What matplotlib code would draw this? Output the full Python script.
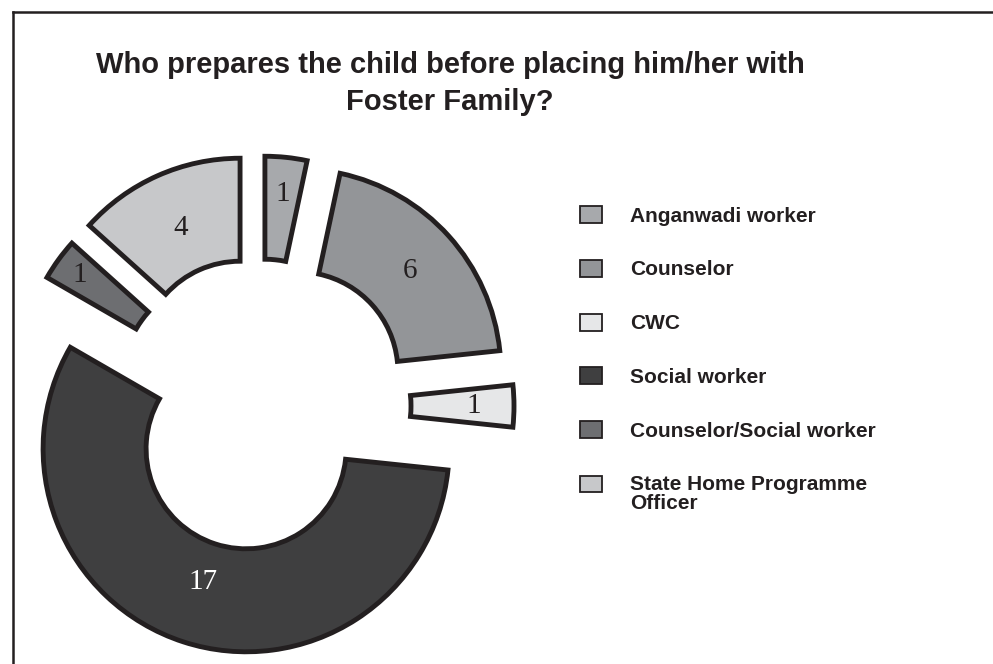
import numpy as np
import matplotlib
matplotlib.use("Agg")
import matplotlib.pyplot as plt
import matplotlib.patches as mpatches
from matplotlib.lines import Line2D

# data
categories = ["Anganwadi worker", "Counselor", "CWC", "Social worker",
              "Counselor/Social worker", "State Home Programme\nOfficer"]
counts = [1, 6, 1, 17, 1, 4]

colors = ["#a7a9ac", "#939598", "#e6e7e8", "#3f3f40", "#6d6e71", "#c7c8ca"]
label_colors = ["#231f20", "#231f20", "#231f20", "#ffffff", "#231f20", "#231f20"]
explode = [47, 51, 51, 45, 46, 49]  # in pixels, since axes are in pixel units
label_r = [0.82, 0.74, 0.80, 0.69, 0.87, 0.72]  # label distance, fraction of radius
edge = "#231f20"

W, H = 993, 664
R = 203
fig = plt.figure(figsize=(W / 100, H / 100), dpi=100)
ax = fig.add_axes([0, 0, 1, 1])

total = sum(counts)
wedges, texts, autotexts = ax.pie(
    counts, explode=explode, colors=colors, startangle=90, counterclock=False,
    center=(260, H - 406), radius=R,
    wedgeprops=dict(width=103, edgecolor=edge, linewidth=3.5),
    autopct=lambda p: f"{round(p * total / 100)}", pctdistance=0.74,
    textprops=dict(family="Liberation Serif", fontsize=21))
# Excel pushes labels of thin slices outwards, so move them a bit
for w, t, c, f in zip(wedges, autotexts, label_colors, label_r):
    t.set_color(c)
    th = np.deg2rad((w.theta1 + w.theta2) / 2)
    cx, cy = w.center
    t.set_position((cx + f * R * np.cos(th), cy + f * R * np.sin(th)))

ax.set_xlim(0, W)
ax.set_ylim(0, H)
ax.axis("off")

# title
fig.text(450 / W, 1 - 51 / H,
         "Who prepares the child before placing him/her with\nFoster Family?",
         ha="center", va="top", ma="center", fontsize=21, fontweight="bold",
         family="Liberation Sans", color="#231f20", linespacing=1.42)

# legend
fs = 15
handles = [mpatches.Patch(facecolor=c, edgecolor=edge, linewidth=1.3) for c in colors]
leg = ax.legend(handles, categories, loc="upper left",
                bbox_to_anchor=(580 / W, 1 - 206 / H), bbox_transform=fig.transFigure,
                frameon=False, borderpad=0, borderaxespad=0,
                handlelength=1.07, handleheight=0.87, handletextpad=1.32,
                labelspacing=1.64,
                prop=dict(family="Liberation Sans", weight="bold", size=fs))
for t in leg.get_texts():
    t.set_color("#231f20")
    t.set_linespacing(1.0)
# square of the two-line entry sits next to the first line
last = leg.legend_handles[-1]
last.set_y(last.get_y() + 0.5 * fs)

# frame (only top and left edges visible)
fig.add_artist(Line2D([12.5 / W, 1], [1 - 12 / H, 1 - 12 / H],
                      transform=fig.transFigure, color=edge, linewidth=1.8))
fig.add_artist(Line2D([12.5 / W, 12.5 / W], [0, 1 - 12 / H],
                      transform=fig.transFigure, color=edge, linewidth=1.8))

fig.savefig("out.png", dpi=100)
